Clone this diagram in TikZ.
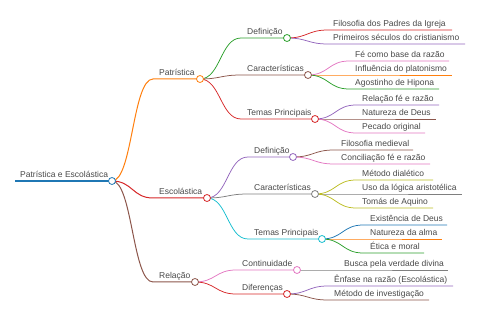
\documentclass[tikz,border=0pt]{standalone}
\usepackage{fontspec}
\setmainfont{Liberation Sans}
\definecolor{txt}{HTML}{484848}
\definecolor{cBlue}{HTML}{1F77B4}
\definecolor{cOrange}{HTML}{FF7F0E}
\definecolor{cGreen}{HTML}{2CA02C}
\definecolor{cRed}{HTML}{D62728}
\definecolor{cPurple}{HTML}{9467BD}
\definecolor{cBrown}{HTML}{8C564B}
\definecolor{cPink}{HTML}{E377C2}
\definecolor{cGray}{HTML}{7F7F7F}
\definecolor{cOlive}{HTML}{BCBD22}
\definecolor{cCyan}{HTML}{17BECF}
\tikzset{
  lbl/.style={anchor=base west, inner sep=0pt, font=\fontsize{8.5}{10}\selectfont, text=txt},
  dot/.style={circle, draw=#1, fill=white, line width=0.8pt, minimum size=7pt, inner sep=0pt},
  lnk/.style={draw=#1, line width=0.75pt},
  lnkA/.style={draw=#1, line width=1pt},
  lnkR/.style={draw=#1, line width=1.4pt},
}
\begin{document}
\begin{tikzpicture}[x=1pt,y=-1pt]
\useasboundingbox (0,0) rectangle (480,320);
% ---------- coordinates (start S, end E) ----------
\coordinate (root-s) at (15,181);  \coordinate (root) at (112,181);
\coordinate (pat-s) at (153,79);   \coordinate (pat) at (200,79);
\coordinate (esc-s) at (153,198);  \coordinate (esc) at (207,198);
\coordinate (rel-s) at (153,282);  \coordinate (rel) at (195,282);
% Patristica children
\coordinate (pdef-s) at (241,38);  \coordinate (pdef) at (287,38);
\coordinate (pcar-s) at (241,75);  \coordinate (pcar) at (308,75);
\coordinate (ptem-s) at (241,119); \coordinate (ptem) at (315,119);
\coordinate (l1-s) at (328,30);  \coordinate (l1-e) at (452,30);
\coordinate (l2-s) at (328,44);  \coordinate (l2-e) at (465,44);
\coordinate (l3-s) at (349,61);  \coordinate (l3-e) at (449,61);
\coordinate (l4-s) at (349,75);  \coordinate (l4-e) at (452,75);
\coordinate (l5-s) at (349,89);  \coordinate (l5-e) at (439,89);
\coordinate (l6-s) at (356,105); \coordinate (l6-e) at (439,105);
\coordinate (l7-s) at (356,119); \coordinate (l7-e) at (436,119);
\coordinate (l8-s) at (356,133); \coordinate (l8-e) at (425,133);
% Escolastica children
\coordinate (edef-s) at (248,157); \coordinate (edef) at (293,157);
\coordinate (ecar-s) at (248,194); \coordinate (ecar) at (315,194);
\coordinate (etem-s) at (248,239); \coordinate (etem) at (322,239);
\coordinate (m1-s) at (334,150); \coordinate (m1-e) at (413,150);
\coordinate (m2-s) at (334,164); \coordinate (m2-e) at (430,164);
\coordinate (m3-s) at (356,180); \coordinate (m3-e) at (433,180);
\coordinate (m4-s) at (356,194); \coordinate (m4-e) at (462,194);
\coordinate (m5-s) at (356,208); \coordinate (m5-e) at (433,208);
\coordinate (m6-s) at (363,225); \coordinate (m6-e) at (447,225);
\coordinate (m7-s) at (363,239); \coordinate (m7-e) at (442,239);
\coordinate (m8-s) at (363,253); \coordinate (m8-e) at (424,253);
% Relacao children
\coordinate (rcon-s) at (236,270); \coordinate (rcon) at (297,270);
\coordinate (rdif-s) at (236,294); \coordinate (rdif) at (287,294);
\coordinate (r1-s) at (338,270); \coordinate (r1-e) at (448,270);
\coordinate (r2-s) at (328,286); \coordinate (r2-e) at (453,286);
\coordinate (r3-s) at (328,300); \coordinate (r3-e) at (429,300);

% ---------- connectors ----------
\draw[lnkR=cBlue] (root-s) -- (root);
\draw[lnkA=cOrange] (root) .. controls +(20.5,0) and +(-20.5,0) .. (pat-s) -- (pat);
\draw[lnkA=cRed] (root) .. controls +(20.5,0) and +(-20.5,0) .. (esc-s) -- (esc);
\draw[lnkA=cBrown] (root) .. controls +(20.5,0) and +(-20.5,0) .. (rel-s) -- (rel);

\draw[lnk=cGreen] (pat) .. controls +(20.5,0) and +(-20.5,0) .. (pdef-s) -- (pdef);
\draw[lnk=cBrown] (pat) .. controls +(20.5,0) and +(-20.5,0) .. (pcar-s) -- (pcar);
\draw[lnk=cRed] (pat) .. controls +(20.5,0) and +(-20.5,0) .. (ptem-s) -- (ptem);

\draw[lnk=cRed] (pdef) .. controls +(20.5,0) and +(-20.5,0) .. (l1-s) -- (l1-e);
\draw[lnk=cPurple] (pdef) .. controls +(20.5,0) and +(-20.5,0) .. (l2-s) -- (l2-e);
\draw[lnk=cPink] (pcar) .. controls +(20.5,0) and +(-20.5,0) .. (l3-s) -- (l3-e);
\draw[lnk=cOrange] (pcar) .. controls +(20.5,0) and +(-20.5,0) .. (l4-s) -- (l4-e);
\draw[lnk=cGreen] (pcar) .. controls +(20.5,0) and +(-20.5,0) .. (l5-s) -- (l5-e);
\draw[lnk=cPurple] (ptem) .. controls +(20.5,0) and +(-20.5,0) .. (l6-s) -- (l6-e);
\draw[lnk=cBrown] (ptem) .. controls +(20.5,0) and +(-20.5,0) .. (l7-s) -- (l7-e);
\draw[lnk=cPink] (ptem) .. controls +(20.5,0) and +(-20.5,0) .. (l8-s) -- (l8-e);

\draw[lnk=cPurple] (esc) .. controls +(20.5,0) and +(-20.5,0) .. (edef-s) -- (edef);
\draw[lnk=cGray] (esc) .. controls +(20.5,0) and +(-20.5,0) .. (ecar-s) -- (ecar);
\draw[lnk=cCyan] (esc) .. controls +(20.5,0) and +(-20.5,0) .. (etem-s) -- (etem);

\draw[lnk=cBrown] (edef) .. controls +(20.5,0) and +(-20.5,0) .. (m1-s) -- (m1-e);
\draw[lnk=cPink] (edef) .. controls +(20.5,0) and +(-20.5,0) .. (m2-s) -- (m2-e);
\draw[lnk=cOlive] (ecar) .. controls +(20.5,0) and +(-20.5,0) .. (m3-s) -- (m3-e);
\draw[lnk=cGray] (ecar) .. controls +(20.5,0) and +(-20.5,0) .. (m4-s) -- (m4-e);
\draw[lnk=cOlive] (ecar) .. controls +(20.5,0) and +(-20.5,0) .. (m5-s) -- (m5-e);
\draw[lnk=cBlue] (etem) .. controls +(20.5,0) and +(-20.5,0) .. (m6-s) -- (m6-e);
\draw[lnk=cOrange] (etem) .. controls +(20.5,0) and +(-20.5,0) .. (m7-s) -- (m7-e);
\draw[lnk=cGreen] (etem) .. controls +(20.5,0) and +(-20.5,0) .. (m8-s) -- (m8-e);

\draw[lnk=cPink] (rel) .. controls +(20.5,0) and +(-20.5,0) .. (rcon-s) -- (rcon);
\draw[lnk=cRed] (rel) .. controls +(20.5,0) and +(-20.5,0) .. (rdif-s) -- (rdif);
\draw[lnk=cGray] (rcon) .. controls +(20.5,0) and +(-20.5,0) .. (r1-s) -- (r1-e);
\draw[lnk=cPurple] (rdif) .. controls +(20.5,0) and +(-20.5,0) .. (r2-s) -- (r2-e);
\draw[lnk=cBrown] (rdif) .. controls +(20.5,0) and +(-20.5,0) .. (r3-s) -- (r3-e);

% ---------- dots ----------
\node[dot=cBlue] (root-d) at (root) {};
\node[dot=cOrange] (pat-d) at (pat) {};
\node[dot=cRed] (esc-d) at (esc) {};
\node[dot=cBrown] (rel-d) at (rel) {};
\node[dot=cGreen] (pdef-d) at (pdef) {};
\node[dot=cBrown] (pcar-d) at (pcar) {};
\node[dot=cRed] (ptem-d) at (ptem) {};
\node[dot=cPurple] (edef-d) at (edef) {};
\node[dot=cGray] (ecar-d) at (ecar) {};
\node[dot=cCyan] (etem-d) at (etem) {};
\node[dot=cPink] (rcon-d) at (rcon) {};
\node[dot=cRed] (rdif-d) at (rdif) {};

% ---------- labels ----------
\node[lbl] (root-t) at ([shift={(5,-3)}]root-s) {Patrística e Escolástica};
\node[lbl] (pat-t) at ([shift={(6,-3)}]pat-s) {Patrística};
\node[lbl] (esc-t) at ([shift={(6,-3)}]esc-s) {Escolástica};
\node[lbl] (rel-t) at ([shift={(6,-3)}]rel-s) {Relação};
\node[lbl] (pdef-t) at ([shift={(6,-3)}]pdef-s) {Definição};
\node[lbl] (pcar-t) at ([shift={(6,-3)}]pcar-s) {Características};
\node[lbl] (ptem-t) at ([shift={(6,-3)}]ptem-s) {Temas Principais};
\node[lbl] (l1-t) at ([shift={(5,-3)}]l1-s) {Filosofia dos Padres da Igreja};
\node[lbl] (l2-t) at ([shift={(5,-3)}]l2-s) {Primeiros séculos do cristianismo};
\node[lbl] (l3-t) at ([shift={(6,-3)}]l3-s) {Fé como base da razão};
\node[lbl] (l4-t) at ([shift={(6,-3)}]l4-s) {Influência do platonismo};
\node[lbl] (l5-t) at ([shift={(6,-3)}]l5-s) {Agostinho de Hipona};
\node[lbl] (l6-t) at ([shift={(6,-3)}]l6-s) {Relação fé e razão};
\node[lbl] (l7-t) at ([shift={(6,-3)}]l7-s) {Natureza de Deus};
\node[lbl] (l8-t) at ([shift={(6,-3)}]l8-s) {Pecado original};
\node[lbl] (edef-t) at ([shift={(6,-3)}]edef-s) {Definição};
\node[lbl] (ecar-t) at ([shift={(6,-3)}]ecar-s) {Características};
\node[lbl] (etem-t) at ([shift={(6,-3)}]etem-s) {Temas Principais};
\node[lbl] (m1-t) at ([shift={(7,-3)}]m1-s) {Filosofia medieval};
\node[lbl] (m2-t) at ([shift={(7,-3)}]m2-s) {Conciliação fé e razão};
\node[lbl] (m3-t) at ([shift={(6,-3)}]m3-s) {Método dialético};
\node[lbl] (m4-t) at ([shift={(6,-3)}]m4-s) {Uso da lógica aristotélica};
\node[lbl] (m5-t) at ([shift={(6,-3)}]m5-s) {Tomás de Aquino};
\node[lbl] (m6-t) at ([shift={(7,-3)}]m6-s) {Existência de Deus};
\node[lbl] (m7-t) at ([shift={(7,-3)}]m7-s) {Natureza da alma};
\node[lbl] (m8-t) at ([shift={(7,-3)}]m8-s) {Ética e moral};
\node[lbl] (rcon-t) at ([shift={(6,-3)}]rcon-s) {Continuidade};
\node[lbl] (rdif-t) at ([shift={(6,-3)}]rdif-s) {Diferenças};
\node[lbl] (r1-t) at ([shift={(6,-3)}]r1-s) {Busca pela verdade divina};
\node[lbl] (r2-t) at ([shift={(6,-3)}]r2-s) {Ênfase na razão (Escolástica)};
\node[lbl] (r3-t) at ([shift={(6,-3)}]r3-s) {Método de investigação};
\end{tikzpicture}
\end{document}
